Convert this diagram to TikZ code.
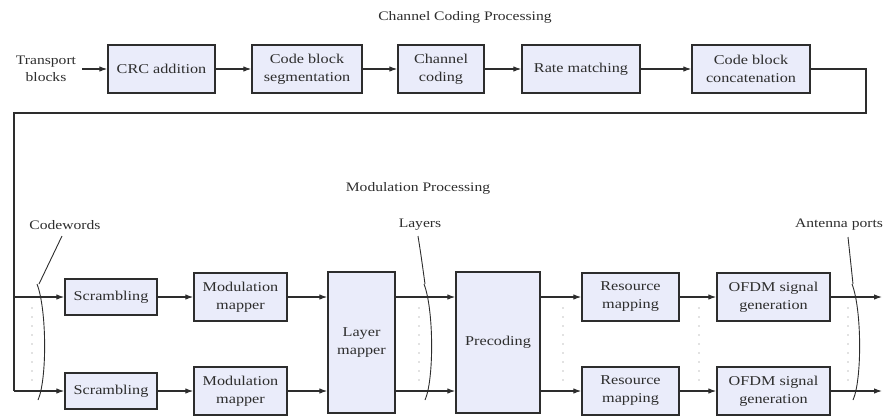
\documentclass[tikz,border=0pt]{standalone}
\usepackage{fontspec}
\setmainfont{Liberation Serif}[FakeStretch=1.2]
\usetikzlibrary{arrows.meta}
\definecolor{boxfill}{RGB}{234,236,250}
\definecolor{ink}{RGB}{45,45,45}
\definecolor{dotgray}{RGB}{130,130,130}

\begin{document}
\begin{tikzpicture}[x=1pt,y=-1pt,
  blk/.style={draw=ink, line width=1.4pt, fill=boxfill, text=ink, align=center,
              inner sep=0pt, font=\fontsize{13.5}{18}\selectfont},
  flow/.style={draw=ink, line width=1.1pt, -{Latex[length=8pt,width=5.5pt]}},
  wire/.style={draw=ink, line width=1.1pt},
  dots/.style={draw=dotgray, line width=1.3pt, line cap=round, dash pattern=on 0pt off 9pt},
  brace/.style={draw=ink, line width=0.9pt},
  lbl/.style={text=ink, inner sep=0pt, align=center, font=\fontsize{13}{17}\selectfont},
]
\useasboundingbox (0,0) rectangle (886,416);

% ---- channel coding chain ----
\node[lbl] (cctitle) at (465,17) {Channel Coding Processing};
\node[lbl] (tb) at (46,69) {Transport\\blocks};
\coordinate (tbout) at (82,69);

\node[blk, minimum width=107pt, minimum height=48pt] (crc) at (161.5,69) {CRC addition};
\node[blk, minimum width=110pt, minimum height=48pt] (seg) at (307,69) {Code block\\segmentation};
\node[blk, minimum width=86pt,  minimum height=48pt] (chc) at (441,69) {Channel\\coding};
\node[blk, minimum width=118pt, minimum height=48pt] (rm)  at (581,69) {Rate matching};
\node[blk, minimum width=118pt, minimum height=48pt] (cat) at (751,69) {Code block\\concatenation};

\draw[flow] (tbout) -- (crc.west);
\draw[flow] (crc) -- (seg);
\draw[flow] (seg) -- (chc);
\draw[flow] (chc) -- (rm);
\draw[flow] (rm) -- (cat);

% ---- return path to the modulation chain ----
\coordinate (rback) at (866,113);
\coordinate (lback) at (14,113);
\coordinate (lbot)  at (14,391);

% ---- modulation chain ----
\node[lbl] (mptitle) at (418,188) {Modulation Processing};

\node[blk, minimum width=92pt, minimum height=36pt] (sc1) at (111,297) {Scrambling};
\node[blk, minimum width=92pt, minimum height=36pt] (sc2) at (111,391) {Scrambling};
\node[blk, minimum width=93pt, minimum height=48pt] (mm1) at (240.5,297) {Modulation\\mapper};
\node[blk, minimum width=93pt, minimum height=48pt] (mm2) at (240.5,391) {Modulation\\mapper};
\node[blk, minimum width=67pt, minimum height=141pt] (lm) at (361.5,342.5) {Layer\\mapper};
\node[blk, minimum width=84pt, minimum height=141pt] (pc) at (498,342.5) {Precoding};
\node[blk, minimum width=97pt, minimum height=48pt] (re1) at (630.5,297) {Resource\\mapping};
\node[blk, minimum width=97pt, minimum height=48pt] (re2) at (630.5,391) {Resource\\mapping};
\node[blk, minimum width=113pt, minimum height=48pt] (of1) at (773.5,297) {OFDM signal\\generation};
\node[blk, minimum width=113pt, minimum height=48pt] (of2) at (773.5,391) {OFDM signal\\generation};
\coordinate (out1) at (882,297);
\coordinate (out2) at (882,391);

\draw[wire] (cat.east) -| (rback) -- (lback) -- (lbot);
\draw[flow] (lback |- sc1.west) -- (sc1.west);
\draw[flow] (lbot) -- (sc2.west);

\draw[flow] (sc1) -- (mm1);
\draw[flow] (sc2) -- (mm2);
\draw[flow] (mm1.east) -- (mm1.east -| lm.west);
\draw[flow] (mm2.east) -- (mm2.east -| lm.west);
\draw[flow] (lm.east |- mm1.east) -- (pc.west |- mm1.east);
\draw[flow] (lm.east |- mm2.east) -- (pc.west |- mm2.east);
\draw[flow] (pc.east |- re1.west) -- (re1.west);
\draw[flow] (pc.east |- re2.west) -- (re2.west);
\draw[flow] (re1) -- (of1);
\draw[flow] (re2) -- (of2);
\draw[flow] (of1.east) -- (out1);
\draw[flow] (of2.east) -- (out2);

% ---- parallel-stream dots ----
\foreach \xd in {32,419,563,699,848}
  \draw[dots] (\xd,308) -- (\xd,383);

% ---- stream group labels ----
\node[lbl] (cw) at (65,225) {Codewords};
\node[lbl] (ly) at (420,225) {Layers};
\node[lbl] (ap) at (839,225) {Antenna ports};

\draw[brace] (62,236) -- (39,284);
\draw[brace] (37,284) .. controls (47,310) and (47,380) .. (38,400);
\draw[brace] (418,236) .. controls (421,255) .. (425,284);
\draw[brace] (424,284) .. controls (434,310) and (434,380) .. (425,400);
\draw[brace] (848,237) -- (853,284);
\draw[brace] (852,284) .. controls (862,310) and (862,380) .. (853,400);
\end{tikzpicture}
\end{document}
